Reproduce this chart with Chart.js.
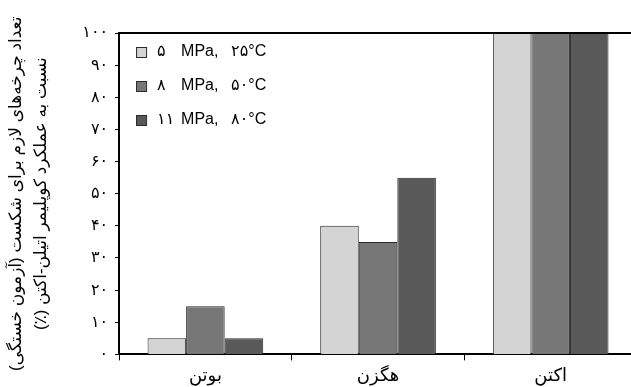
<!DOCTYPE html>
<html>
<head>
<meta charset="utf-8">
<script src="https://cdn.jsdelivr.net/npm/chart.js@4/dist/chart.umd.min.js"></script>
<style>
  html, body { margin: 0; padding: 0; background: #fff; overflow: hidden; }
  #wrap { width: 640px; height: 387px; }
</style>
</head>
<body>
<div id="wrap"><canvas id="c"></canvas></div>
<script>
const categories = ['بوتن', 'هگزن', 'اکتن'];
const pressures = ['۵', '۸', '۱۱'];
const temps = ['۲۵°C', '۵۰°C', '۸۰°C'];
const low = [5, 40, 100];
const mid = [15, 35, 100];
const high = [5, 55, 100];
const yTickLabels = ['۰', '۱۰', '۲۰', '۳۰', '۴۰', '۵۰', '۶۰', '۷۰', '۸۰', '۹۰', '۱۰۰'];
const yTitle = [
  '\u200Fتعداد چرخه‌های لازم برای شکست (آزمون خستگی)\u200F',
  '\u200Fنسبت به عملکرد کوپلیمر اتیلن-اکتن (٪)\u200F'
];

const colors = ['#d4d4d4', '#777777', '#595959'];
const fontFamily = '"Liberation Sans", Arial, "DejaVu Sans", sans-serif';

// top border of the plot box + legend drawn inside the plot
const boxAndLegend = {
  id: 'boxAndLegend',
  afterDraw (chart) {
    const { ctx, chartArea } = chart;
    ctx.save();
    ctx.strokeStyle = '#000';
    ctx.lineWidth = 2;
    ctx.beginPath();
    ctx.moveTo(chartArea.left, chartArea.top);
    ctx.lineTo(chartArea.right, chartArea.top);
    ctx.stroke();

    ctx.font = '16px ' + fontFamily;
    ctx.textBaseline = 'middle';
    chart.data.datasets.forEach((ds, i) => {
      const x = chartArea.left + 17;
      const y = chartArea.top + 19 + i * 34;
      ctx.fillStyle = ds.backgroundColor;
      ctx.fillRect(x, y - 5, 10, 10);
      ctx.strokeStyle = '#2a2a2a';
      ctx.lineWidth = 1;
      ctx.strokeRect(x + 0.5, y - 4.5, 10, 10);
      ctx.fillStyle = '#000';
      ctx.textAlign = 'left';
      ctx.fillText(pressures[i], x + 21, y);
      ctx.fillText('MPa,', x + 45, y);
      ctx.fillText(temps[i], x + 95, y);
    });
    ctx.restore();
  }
};

const data = {
  labels: categories,
  datasets: [low, mid, high].map((vals, i) => ({
    label: pressures[i] + ' MPa, ' + temps[i],
    data: vals,
    backgroundColor: colors[i],
    borderColor: '#2a2a2a',
    borderWidth: 1,
    categoryPercentage: 0.67,
    barPercentage: 1
  }))
};

new Chart(document.getElementById('c'), {
  type: 'bar',
  data,
  options: {
    responsive: true,
    maintainAspectRatio: false,
    animation: false,
    layout: { padding: { top: 33, right: 3, left: 4, bottom: -5 } },
    plugins: {
      tooltip: { enabled: false },
      legend: { display: false }
    },
    scales: {
      x: {
        grid: { display: true, drawOnChartArea: false, offset: true, tickLength: 6, color: '#000', lineWidth: 1 },
        border: { color: '#000', width: 2 },
        ticks: { color: '#000', font: { family: fontFamily, size: 18 }, padding: 5 }
      },
      y: {
        min: 0,
        max: 100,
        grid: { display: true, drawOnChartArea: false, tickLength: 4, color: '#000', lineWidth: 1 },
        border: { color: '#000', width: 2 },
        ticks: {
          stepSize: 10,
          color: '#000',
          padding: 7,
          font: { family: fontFamily, size: 16 },
          callback: (v, i) => yTickLabels[i]
        },
        title: {
          display: true,
          text: yTitle,
          color: '#000',
          font: { family: fontFamily, size: 17, lineHeight: 1.45 },
          padding: { top: 0, bottom: 22 }
        }
      }
    }
  },
  plugins: [boxAndLegend]
});
</script>
</body>
</html>
